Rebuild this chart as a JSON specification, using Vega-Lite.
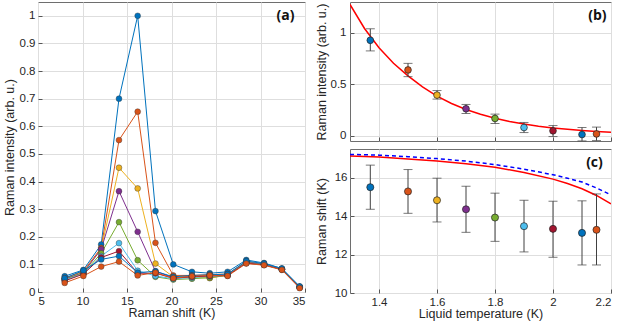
{
  "$schema": "https://vega.github.io/schema/vega-lite/v6.json",
  "background": "white",
  "padding": {"left": 2, "top": 1, "right": 0, "bottom": 0},
  "config": {
    "font": "Liberation Sans",
    "view": {"stroke": "#6e6e6e", "strokeWidth": 1},
    "axis": {
      "grid": true, "gridColor": "#dedede", "gridWidth": 1,
      "domain": false, "tickSize": -4, "tickColor": "#555555",
      "labelColor": "#262626", "titleColor": "#262626",
      "labelFontSize": 11.5, "titleFontSize": 12.5, "titleFontWeight": "normal",
      "labelPadding": 7, "labelOverlap": false
    },
    "axisY": {"labelPadding": 7}
  },
  "datasets": {
    "spectra": [
      {"x": 8.0, "s1": 0.057, "s2": 0.050, "s3": 0.048, "s4": 0.047, "s5": 0.045, "s6": 0.043, "s7": 0.040, "s8": 0.050, "s9": 0.033},
      {"x": 10.1, "s1": 0.080, "s2": 0.075, "s3": 0.072, "s4": 0.070, "s5": 0.068, "s6": 0.066, "s7": 0.065, "s8": 0.078, "s9": 0.058},
      {"x": 12.1, "s1": 0.172, "s2": 0.160, "s3": 0.155, "s4": 0.155, "s5": 0.140, "s6": 0.130, "s7": 0.125, "s8": 0.118, "s9": 0.092},
      {"x": 14.1, "s1": 0.700, "s2": 0.550, "s3": 0.450, "s4": 0.365, "s5": 0.253, "s6": 0.177, "s7": 0.148, "s8": 0.130, "s9": 0.110},
      {"x": 16.2, "s1": 1.000, "s2": 0.653, "s3": 0.375, "s4": 0.218, "s5": 0.115, "s6": 0.077, "s7": 0.068, "s8": 0.070, "s9": 0.060},
      {"x": 18.2, "s1": 0.293, "s2": 0.178, "s3": 0.103, "s4": 0.075, "s5": 0.055, "s6": 0.058, "s7": 0.068, "s8": 0.075, "s9": 0.070},
      {"x": 20.2, "s1": 0.100, "s2": 0.060, "s3": 0.055, "s4": 0.052, "s5": 0.045, "s6": 0.048, "s7": 0.050, "s8": 0.055, "s9": 0.050},
      {"x": 22.3, "s1": 0.073, "s2": 0.060, "s3": 0.055, "s4": 0.055, "s5": 0.048, "s6": 0.052, "s7": 0.055, "s8": 0.060, "s9": 0.057},
      {"x": 24.3, "s1": 0.068, "s2": 0.063, "s3": 0.050, "s4": 0.058, "s5": 0.052, "s6": 0.057, "s7": 0.058, "s8": 0.062, "s9": 0.060},
      {"x": 26.3, "s1": 0.073, "s2": 0.065, "s3": 0.062, "s4": 0.060, "s5": 0.060, "s6": 0.060, "s7": 0.060, "s8": 0.065, "s9": 0.058},
      {"x": 28.4, "s1": 0.116, "s2": 0.110, "s3": 0.108, "s4": 0.107, "s5": 0.106, "s6": 0.105, "s7": 0.105, "s8": 0.112, "s9": 0.103},
      {"x": 30.4, "s1": 0.105, "s2": 0.100, "s3": 0.100, "s4": 0.100, "s5": 0.099, "s6": 0.098, "s7": 0.098, "s8": 0.103, "s9": 0.097},
      {"x": 32.4, "s1": 0.085, "s2": 0.083, "s3": 0.082, "s4": 0.082, "s5": 0.082, "s6": 0.082, "s7": 0.082, "s8": 0.085, "s9": 0.080},
      {"x": 34.4, "s1": 0.020, "s2": 0.018, "s3": 0.017, "s4": 0.017, "s5": 0.017, "s6": 0.016, "s7": 0.016, "s8": 0.020, "s9": 0.014}
    ],
    "pts": [
      {"k": "s1", "T": 1.37, "I": 0.928, "Ilo": 0.825, "Ihi": 1.040, "S": 15.51, "Slo": 14.36, "Shi": 16.66},
      {"k": "s2", "T": 1.50, "I": 0.640, "Ilo": 0.575, "Ihi": 0.704, "S": 15.29, "Slo": 14.15, "Shi": 16.43},
      {"k": "s3", "T": 1.60, "I": 0.396, "Ilo": 0.357, "Ihi": 0.440, "S": 14.83, "Slo": 13.70, "Shi": 15.98},
      {"k": "s4", "T": 1.70, "I": 0.263, "Ilo": 0.217, "Ihi": 0.305, "S": 14.36, "Slo": 13.16, "Shi": 15.56},
      {"k": "s5", "T": 1.80, "I": 0.169, "Ilo": 0.120, "Ihi": 0.211, "S": 13.93, "Slo": 12.69, "Shi": 15.20},
      {"k": "s6", "T": 1.90, "I": 0.081, "Ilo": 0.032, "Ihi": 0.130, "S": 13.48, "Slo": 12.14, "Shi": 14.83},
      {"k": "s7", "T": 2.00, "I": 0.049, "Ilo": -0.007, "Ihi": 0.100, "S": 13.34, "Slo": 11.86, "Shi": 14.78},
      {"k": "s8", "T": 2.10, "I": 0.013, "Ilo": -0.049, "Ihi": 0.081, "S": 13.13, "Slo": 11.46, "Shi": 14.80},
      {"k": "s9", "T": 2.15, "I": 0.019, "Ilo": -0.046, "Ihi": 0.085, "S": 13.29, "Slo": 11.46, "Shi": 15.16}
    ],
    "bcurve": [
      {"T": 1.30, "I": 1.276}, {"T": 1.35, "I": 1.043}, {"T": 1.40, "I": 0.855}, {"T": 1.45, "I": 0.705},
      {"T": 1.50, "I": 0.582}, {"T": 1.55, "I": 0.475}, {"T": 1.60, "I": 0.385}, {"T": 1.65, "I": 0.314},
      {"T": 1.70, "I": 0.256}, {"T": 1.75, "I": 0.209}, {"T": 1.80, "I": 0.171}, {"T": 1.85, "I": 0.140},
      {"T": 1.90, "I": 0.115}, {"T": 1.95, "I": 0.094}, {"T": 2.00, "I": 0.077}, {"T": 2.05, "I": 0.064},
      {"T": 2.10, "I": 0.052}, {"T": 2.15, "I": 0.043}, {"T": 2.20, "I": 0.035}
    ],
    "ccurve": [
      {"T": 1.30, "red": 17.13, "blue": 17.22}, {"T": 1.40, "red": 17.08, "blue": 17.18},
      {"T": 1.50, "red": 16.98, "blue": 17.10}, {"T": 1.60, "red": 16.87, "blue": 17.00},
      {"T": 1.70, "red": 16.73, "blue": 16.87}, {"T": 1.80, "red": 16.55, "blue": 16.69},
      {"T": 1.90, "red": 16.28, "blue": 16.45}, {"T": 2.00, "red": 15.93, "blue": 16.16},
      {"T": 2.05, "red": 15.70, "blue": 15.98}, {"T": 2.10, "red": 15.43, "blue": 15.78},
      {"T": 2.15, "red": 15.08, "blue": 15.47}, {"T": 2.20, "red": 14.64, "blue": 15.11}
    ],
    "labels": [
      {"p": "a", "lab": "(a)", "x": 32.8, "y": 1.0},
      {"p": "b", "lab": "(b)", "x": 2.153, "y": 1.16},
      {"p": "c", "lab": "(c)", "x": 2.143, "y": 16.75}
    ]
  },
  "spacing": 8,
  "hconcat": [
    {
      "width": 267, "height": 290,
      "layer": [
        {
          "data": {"name": "spectra"},
          "transform": [{"fold": ["s1", "s2", "s3", "s4", "s5", "s6", "s7", "s8", "s9"], "as": ["k", "v"]}],
          "mark": {"type": "line", "strokeWidth": 1, "point": {"filled": true, "size": 34, "stroke": "#333333", "strokeWidth": 0.4}},
          "encoding": {
            "x": {"field": "x", "type": "quantitative", "scale": {"domain": [5, 35], "nice": false, "zero": false}, "axis": {"values": [5, 10, 15, 20, 25, 30, 35], "labelOverlap": false, "title": "Raman shift (K)", "titlePadding": 0}},
            "y": {"field": "v", "type": "quantitative", "scale": {"domain": [0, 1.05], "nice": false}, "axis": {"values": [0, 0.1, 0.2, 0.3, 0.4, 0.5, 0.6, 0.7, 0.8, 0.9, 1], "labelOverlap": false, "format": "~g", "title": "Raman intensity (arb. u.)", "titlePadding": 3}},
            "color": {"field": "k", "type": "nominal", "legend": null, "scale": {"domain": ["s1", "s2", "s3", "s4", "s5", "s6", "s7", "s8", "s9"], "range": ["#0072BD", "#D95319", "#EDB120", "#7E2F8E", "#77AC30", "#4DBEEE", "#A2142F", "#0072BD", "#D95319"]}}
          }
        },
        {
          "data": {"name": "labels"},
          "transform": [{"filter": "datum.p == 'a'"}],
          "mark": {"type": "text", "font": "Open Sans", "fontWeight": "bold", "fontSize": 14, "color": "#111111"},
          "encoding": {
            "x": {"field": "x", "type": "quantitative", "axis": {"values": [5, 10, 15, 20, 25, 30, 35], "labelOverlap": false, "title": "Raman shift (K)", "titlePadding": 0}},
            "y": {"field": "y", "type": "quantitative", "axis": {"values": [0, 0.1, 0.2, 0.3, 0.4, 0.5, 0.6, 0.7, 0.8, 0.9, 1], "labelOverlap": false, "format": "~g", "title": "Raman intensity (arb. u.)", "titlePadding": 3}},
            "text": {"field": "lab"}
          }
        }
      ]
    },
    {
      "spacing": 6,
      "vconcat": [
        {
          "width": 261, "height": 139,
          "layer": [
            {
              "data": {"name": "bcurve"},
              "mark": {"type": "line", "color": "#ff0000", "strokeWidth": 1.5, "clip": true},
              "encoding": {
                "x": {"field": "T", "type": "quantitative", "scale": {"domain": [1.3, 2.2], "nice": false, "zero": false}, "axis": {"values": [1.4, 1.6, 1.8, 2.0, 2.2], "labels": false, "title": null}},
                "y": {"field": "I", "type": "quantitative", "scale": {"domain": [-0.05, 1.3], "nice": false, "zero": false}, "axis": {"values": [0, 0.5, 1], "format": "~g", "title": "Raman intensity (arb. u.)", "titlePadding": 2, "labelPadding": 8}}
              }
            },
            {
              "data": {"name": "pts"},
              "mark": {"type": "rule", "color": "#404040", "strokeWidth": 1},
              "encoding": {
                "x": {"field": "T", "type": "quantitative"},
                "y": {"field": "Ilo", "type": "quantitative"},
                "y2": {"field": "Ihi"}
              }
            },
            {
              "data": {"name": "pts"},
              "mark": {"type": "tick", "orient": "horizontal", "color": "#404040", "size": 9, "thickness": 1},
              "encoding": {
                "x": {"field": "T", "type": "quantitative"},
                "y": {"field": "Ilo", "type": "quantitative"}
              }
            },
            {
              "data": {"name": "pts"},
              "mark": {"type": "tick", "orient": "horizontal", "color": "#404040", "size": 9, "thickness": 1},
              "encoding": {
                "x": {"field": "T", "type": "quantitative"},
                "y": {"field": "Ihi", "type": "quantitative"}
              }
            },
            {
              "data": {"name": "pts"},
              "mark": {"type": "circle", "size": 45, "opacity": 1, "stroke": "#222222", "strokeWidth": 0.7},
              "encoding": {
                "x": {"field": "T", "type": "quantitative"},
                "y": {"field": "I", "type": "quantitative"},
                "color": {"field": "k", "type": "nominal", "legend": null, "scale": {"domain": ["s1", "s2", "s3", "s4", "s5", "s6", "s7", "s8", "s9"], "range": ["#0072BD", "#D95319", "#EDB120", "#7E2F8E", "#77AC30", "#4DBEEE", "#A2142F", "#0072BD", "#D95319"]}}
              }
            },
            {
              "data": {"name": "labels"},
              "transform": [{"filter": "datum.p == 'b'"}],
              "mark": {"type": "text", "font": "Open Sans", "fontWeight": "bold", "fontSize": 14, "color": "#111111"},
              "encoding": {
                "x": {"field": "x", "type": "quantitative"},
                "y": {"field": "y", "type": "quantitative"},
                "text": {"field": "lab"}
              }
            }
          ]
        },
        {
          "width": 261, "height": 144,
          "layer": [
            {
              "data": {"name": "ccurve"},
              "mark": {"type": "line", "color": "#ff0000", "strokeWidth": 1.5, "clip": true},
              "encoding": {
                "x": {"field": "T", "type": "quantitative", "scale": {"domain": [1.3, 2.2], "nice": false, "zero": false}, "axis": {"values": [1.4, 1.6, 1.8, 2.0, 2.2], "format": "~g", "title": "Liquid temperature (K)", "titlePadding": 0}},
                "y": {"field": "red", "type": "quantitative", "scale": {"domain": [10, 17.5], "nice": false, "zero": false}, "axis": {"values": [10, 12, 14, 16], "title": "Raman shift (K)", "titlePadding": 6}}
              }
            },
            {
              "data": {"name": "ccurve"},
              "mark": {"type": "line", "color": "#0000ff", "strokeWidth": 1.5, "strokeDash": [4, 3], "clip": true},
              "encoding": {
                "x": {"field": "T", "type": "quantitative"},
                "y": {"field": "blue", "type": "quantitative"}
              }
            },
            {
              "data": {"name": "pts"},
              "mark": {"type": "rule", "color": "#404040", "strokeWidth": 1},
              "encoding": {
                "x": {"field": "T", "type": "quantitative"},
                "y": {"field": "Slo", "type": "quantitative"},
                "y2": {"field": "Shi"}
              }
            },
            {
              "data": {"name": "pts"},
              "mark": {"type": "tick", "orient": "horizontal", "color": "#404040", "size": 9, "thickness": 1},
              "encoding": {
                "x": {"field": "T", "type": "quantitative"},
                "y": {"field": "Slo", "type": "quantitative"}
              }
            },
            {
              "data": {"name": "pts"},
              "mark": {"type": "tick", "orient": "horizontal", "color": "#404040", "size": 9, "thickness": 1},
              "encoding": {
                "x": {"field": "T", "type": "quantitative"},
                "y": {"field": "Shi", "type": "quantitative"}
              }
            },
            {
              "data": {"name": "pts"},
              "mark": {"type": "circle", "size": 50, "opacity": 1, "stroke": "#222222", "strokeWidth": 0.7},
              "encoding": {
                "x": {"field": "T", "type": "quantitative"},
                "y": {"field": "S", "type": "quantitative"},
                "color": {"field": "k", "type": "nominal", "legend": null, "scale": {"domain": ["s1", "s2", "s3", "s4", "s5", "s6", "s7", "s8", "s9"], "range": ["#0072BD", "#D95319", "#EDB120", "#7E2F8E", "#77AC30", "#4DBEEE", "#A2142F", "#0072BD", "#D95319"]}}
              }
            },
            {
              "data": {"name": "labels"},
              "transform": [{"filter": "datum.p == 'c'"}],
              "mark": {"type": "text", "font": "Open Sans", "fontWeight": "bold", "fontSize": 14, "color": "#111111"},
              "encoding": {
                "x": {"field": "x", "type": "quantitative"},
                "y": {"field": "y", "type": "quantitative"},
                "text": {"field": "lab"}
              }
            }
          ]
        }
      ]
    }
  ]
}
